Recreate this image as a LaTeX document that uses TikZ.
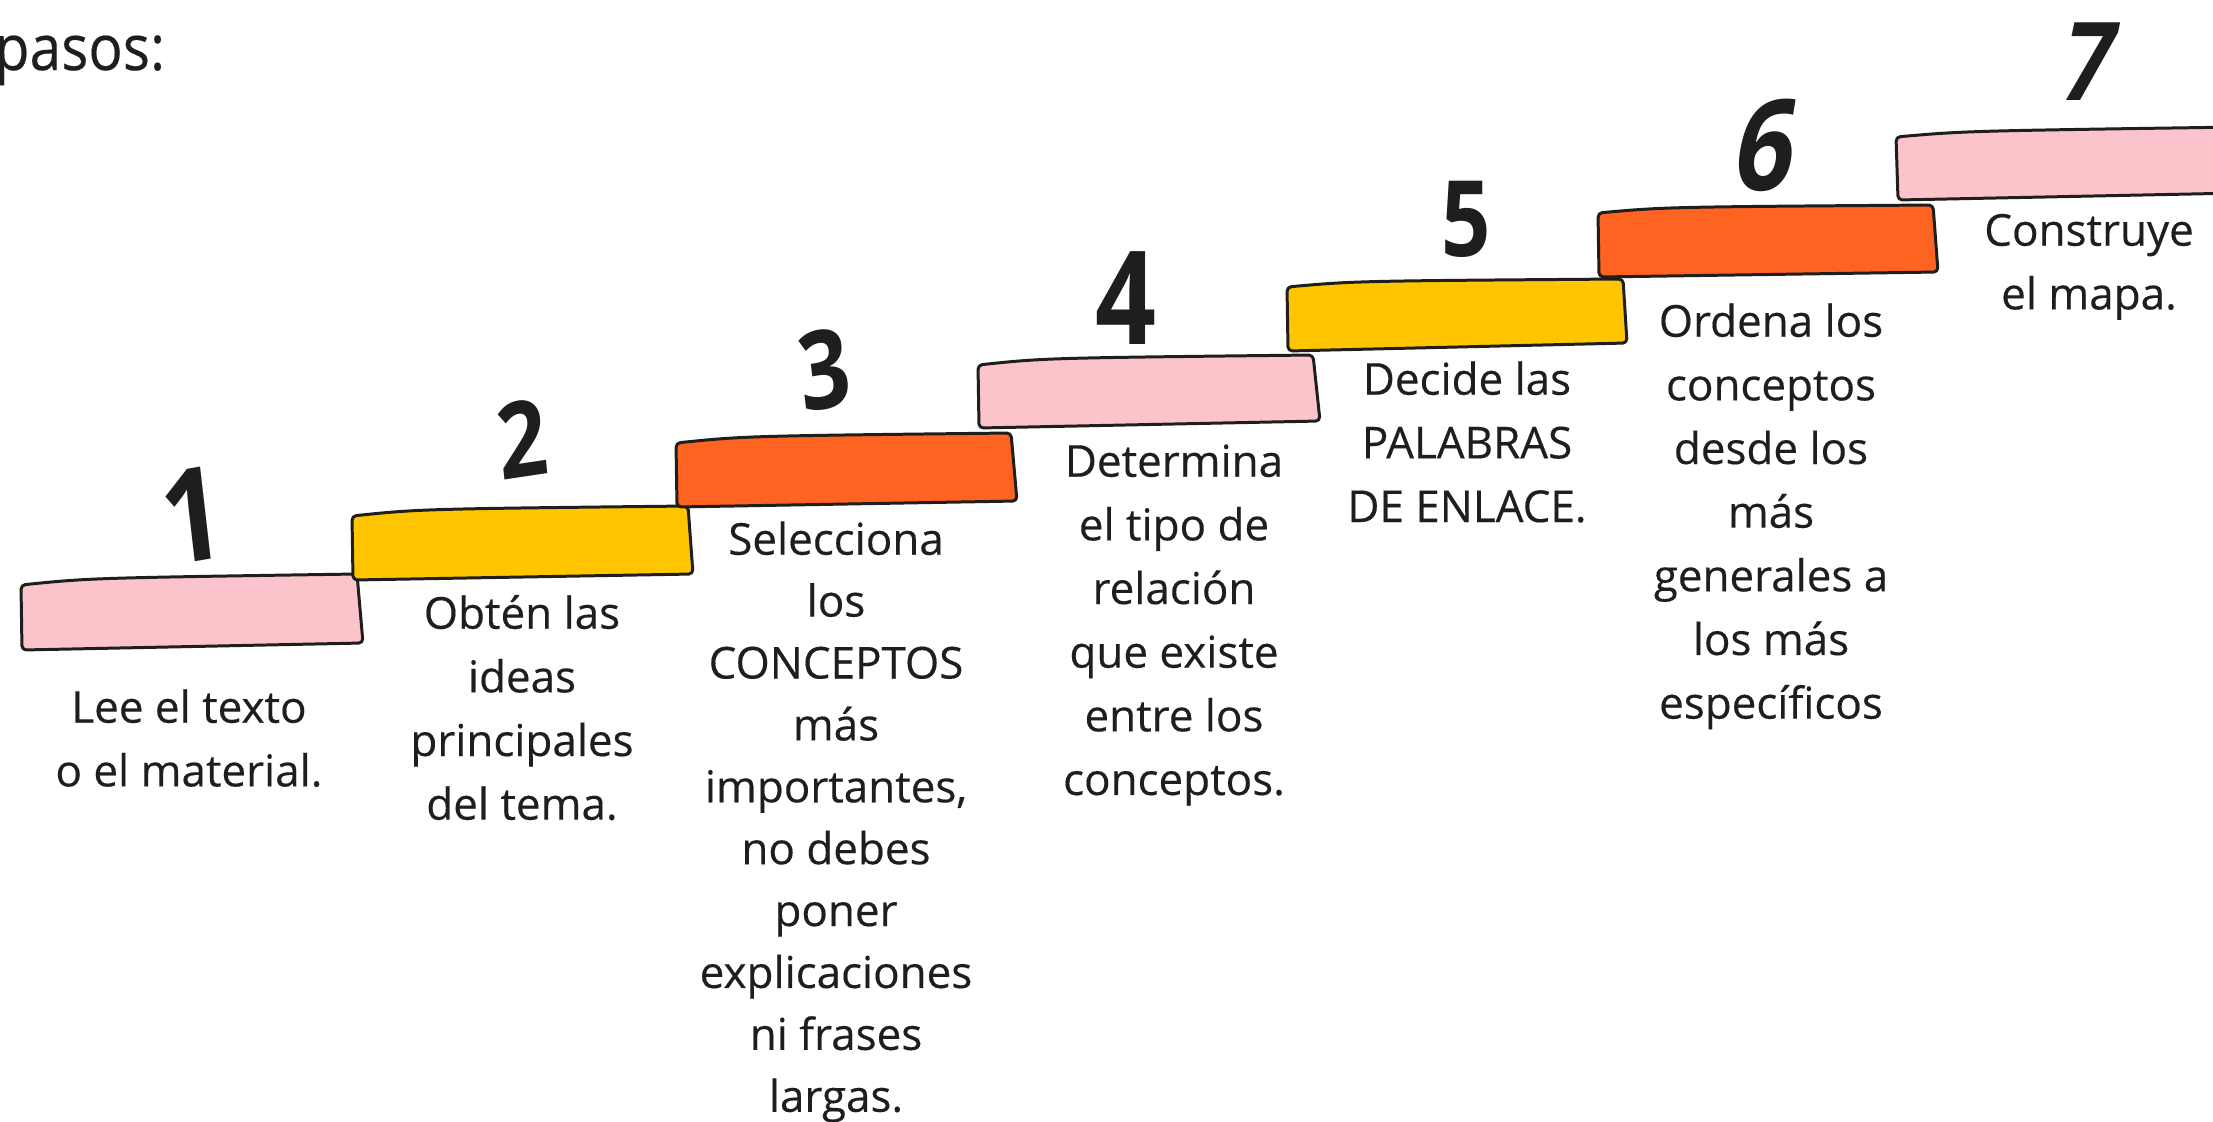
\documentclass[tikz,border=0pt]{standalone}
\usepackage{fontspec}
\setmainfont{Open Sans}
\definecolor{pinkc}{RGB}{251,196,203}
\definecolor{yelc}{RGB}{255,197,0}
\definecolor{orc}{RGB}{255,99,34}
\definecolor{ink}{RGB}{30,30,28}
\newcommand{\firstline}{\rule{0pt}{12pt}}
\newcommand{\numsize}[1]{\fontsize{#1}{#1}\selectfont\bfseries}
\tikzset{
  stepbox/.style={draw=ink, line width=0.85pt, line join=round, rounded corners=1.2pt},
  desc/.style={anchor=north, inner sep=0pt, align=center, text=ink,
               font=\fontsize{12.5}{18.1}\selectfont\addfontfeature{FakeBold=0.3}},
  num/.style={inner sep=0pt, text=ink, xscale=0.82},
}
\begin{document}
\begin{tikzpicture}[x=0.01cm, y=-0.01cm]
\useasboundingbox (0,0) rectangle (2213,1121);
\clip (0,0) rectangle (2213,1121);
\fill[white] (0,0) rectangle (2213,1121);

% title fragment
\node[anchor=base west, inner sep=0pt, text=ink, xscale=0.9,
      font=\fontsize{18}{18}\selectfont\addfontfeature{FakeBold=0.3}] (title) at (-6,70) {pasos:};

% steps
\path[stepbox, fill=pinkc] (21,585) .. controls (90,578) .. (357,574) -- (363,643) -- (22,650) -- cycle;
\path[stepbox, fill=yelc]  (352,516) .. controls (420,509) .. (688,506) -- (693,574) -- (353,580) -- cycle;
\path[stepbox, fill=orc]   (676,443) .. controls (745,436) .. (1011,433) -- (1017,501) -- (677,507) -- cycle;
\path[stepbox, fill=pinkc] (978,365) .. controls (1045,358) .. (1313,355) -- (1320,421) -- (979,428) -- cycle;
\path[stepbox, fill=yelc]  (1287,287) .. controls (1355,281) .. (1623,279) -- (1627,343) -- (1288,351) -- cycle;
\path[stepbox, fill=orc]   (1598,213) .. controls (1665,207) .. (1933,205) -- (1938,272) -- (1599,277) -- cycle;
\path[stepbox, fill=pinkc] (1896,137) .. controls (1965,131) .. (2240,127) -- (2240,193) -- (1898,200) -- cycle;

% numbers
\node[num, rotate=8]  (n1) at (192,515)  {\numsize{37}1};
\node[num, rotate=7]  (n2) at (522,439)  {\numsize{30}2};
\node[num, rotate=8]  (n3) at (824,370)  {\numsize{31}3};
\node[num, rotate=0]  (n4) at (1126,298) {\numsize{37}4};
\node[num, rotate=0]  (n5) at (1466,219) {\numsize{30}5};
\node[num, xslant=0.2] (n6) at (1767,145) {\numsize{36}6};
\node[num, xslant=0.25] (n7) at (2090,62) {\numsize{31}7};

% descriptions
\node[desc] (t1) at (189,679.8)  {\firstline Lee el texto\\o el material.};
\node[desc] (t2) at (522,585.8)  {\firstline Obtén las\\ideas\\principales\\del tema.};
\node[desc, font=\fontsize{12.5}{17.6}\selectfont\addfontfeature{FakeBold=0.3}] (t3) at (836,511.8)
  {\firstline Selecciona\\los\\CONCEPTOS\\más\\importantes,\\no debes\\poner\\explicaciones\\ni frases\\largas.};
\node[desc] (t4) at (1174,433.8) {\firstline Determina\\el tipo de\\relación\\que existe\\entre los\\conceptos.};
\node[desc] (t5) at (1467,351.8) {\firstline Decide las\\PALABRAS\\DE ENLACE.};
\node[desc] (t6) at (1771,293.8) {\firstline Ordena los\\conceptos\\desde los\\más\\generales a\\los más\\específicos};
\node[desc] (t7) at (2089,202.8) {\firstline Construye\\el mapa.};
\end{tikzpicture}
\end{document}
